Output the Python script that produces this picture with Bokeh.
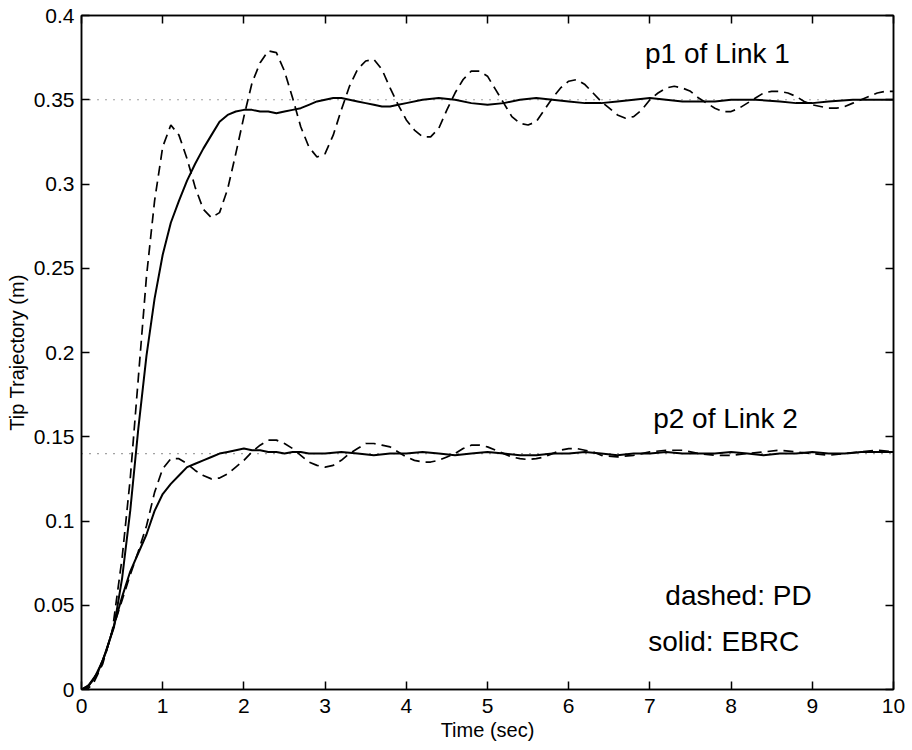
from bokeh.plotting import figure
from bokeh.models import LinearAxis, FixedTicker, Range1d
from bokeh.core.properties import value
from bokeh.embed import file_html
from bokeh.resources import INLINE

# ---------------- data ----------------
x_ticks = [0, 1, 2, 3, 4, 5, 6, 7, 8, 9, 10]
x_tick_labels = ["0", "1", "2", "3", "4", "5", "6", "7", "8", "9", "10"]
y_ticks = [0, 0.05, 0.1, 0.15, 0.2, 0.25, 0.3, 0.35, 0.4]
y_tick_labels = ["0", "0.05", "0.1", "0.15", "0.2", "0.25", "0.3", "0.35", "0.4"]

# reference (desired) positions, dotted
ref_t = [0, 10]
ref_p1 = [0.35, 0.35]
ref_p2 = [0.14, 0.14]

# p1 of Link 1, PD (dashed)
t_p1_pd = [0, 0.07, 0.15, 0.26, 0.38, 0.5, 0.6, 0.7, 0.8, 0.9, 1.0, 1.1, 1.2, 1.3, 1.4,
           1.5, 1.6, 1.7, 1.8, 1.9, 2.0, 2.1, 2.2, 2.3, 2.4, 2.5, 2.6, 2.7, 2.8, 2.9,
           3.0, 3.1, 3.2, 3.3, 3.4, 3.5, 3.6, 3.7, 3.8, 3.9, 4.0, 4.1, 4.2, 4.3, 4.4,
           4.5, 4.6, 4.7, 4.8, 4.9, 5.0, 5.1, 5.2, 5.3, 5.4, 5.5, 5.6, 5.7, 5.8, 5.9,
           6.0, 6.1, 6.2, 6.3, 6.4, 6.5, 6.6, 6.7, 6.8, 6.9, 7.0, 7.1, 7.2, 7.3, 7.4,
           7.5, 7.6, 7.7, 7.8, 7.9, 8.0, 8.1, 8.2, 8.3, 8.4, 8.5, 8.6, 8.7, 8.8, 8.9,
           9.0, 9.1, 9.2, 9.3, 9.4, 9.5, 9.6, 9.7, 9.8, 9.9, 10.0]
y_p1_pd = [0, 0, 0.004, 0.015, 0.035, 0.078, 0.125, 0.185, 0.245, 0.29, 0.322, 0.335, 0.329, 0.315, 0.298,
           0.285, 0.28, 0.283, 0.297, 0.318, 0.34, 0.36, 0.372, 0.379, 0.378, 0.367, 0.351, 0.334, 0.322, 0.316,
           0.318, 0.329, 0.344, 0.358, 0.368, 0.373, 0.374, 0.368, 0.357, 0.347, 0.338, 0.332, 0.328, 0.328, 0.333,
           0.344, 0.354, 0.362, 0.367, 0.367, 0.364, 0.356, 0.348, 0.340, 0.336, 0.335, 0.337, 0.344, 0.351, 0.357,
           0.361, 0.362, 0.359, 0.354, 0.349, 0.345, 0.341, 0.339, 0.340, 0.344, 0.350, 0.354, 0.357, 0.358, 0.357,
           0.355, 0.351, 0.348, 0.345, 0.343, 0.343, 0.345, 0.348, 0.351, 0.354, 0.355, 0.355, 0.354, 0.352, 0.349,
           0.347, 0.346, 0.345, 0.345, 0.346, 0.348, 0.350, 0.352, 0.354, 0.355, 0.355]

# p1 of Link 1, EBRC (solid)
t_p1_ebrc = [0, 0.05, 0.15, 0.26, 0.4, 0.5, 0.6, 0.7, 0.8, 0.9, 1.0, 1.1, 1.2, 1.3, 1.4,
             1.5, 1.6, 1.7, 1.8, 1.9, 2.0, 2.1, 2.2, 2.3, 2.4, 2.5, 2.6, 2.7, 2.8, 2.9,
             3.0, 3.1, 3.2, 3.3, 3.4, 3.5, 3.6, 3.7, 3.8, 3.9, 4.0, 4.2, 4.4, 4.6, 4.8,
             5.0, 5.2, 5.4, 5.6, 5.8, 6.0, 6.2, 6.4, 6.6, 6.8, 7.0, 7.2, 7.4, 7.6, 7.8,
             8.0, 8.3, 8.6, 8.8, 9.0, 9.2, 9.5, 9.8, 10.0]
y_p1_ebrc = [0, 0, 0.006, 0.017, 0.037, 0.066, 0.106, 0.155, 0.198, 0.232, 0.258, 0.277, 0.290, 0.302, 0.312,
             0.321, 0.329, 0.337, 0.341, 0.343, 0.344, 0.344, 0.343, 0.343, 0.342, 0.343, 0.344, 0.345, 0.347, 0.349,
             0.350, 0.351, 0.351, 0.350, 0.349, 0.348, 0.347, 0.346, 0.346, 0.347, 0.348, 0.350, 0.351, 0.350, 0.348,
             0.347, 0.348, 0.350, 0.351, 0.350, 0.349, 0.348, 0.348, 0.349, 0.350, 0.351, 0.350, 0.349, 0.349, 0.349,
             0.350, 0.350, 0.349, 0.348, 0.348, 0.349, 0.350, 0.350, 0.350]

# p2 of Link 2, PD (dashed)
t_p2_pd = [0, 0.1, 0.2, 0.3, 0.4, 0.5, 0.6, 0.7, 0.8, 0.9, 1.0, 1.1, 1.2, 1.3, 1.4,
           1.5, 1.6, 1.7, 1.8, 1.9, 2.0, 2.1, 2.2, 2.3, 2.4, 2.5, 2.6, 2.7, 2.8, 2.9,
           3.0, 3.1, 3.2, 3.3, 3.4, 3.5, 3.6, 3.7, 3.8, 3.9, 4.0, 4.1, 4.2, 4.3, 4.4,
           4.5, 4.6, 4.7, 4.8, 4.9, 5.0, 5.1, 5.2, 5.3, 5.4, 5.5, 5.6, 5.7, 5.8, 5.9,
           6.0, 6.1, 6.2, 6.3, 6.4, 6.6, 6.8, 7.0, 7.2, 7.4, 7.6, 7.8, 8.0, 8.2, 8.4,
           8.6, 8.8, 9.0, 9.2, 9.4, 9.6, 9.8, 10.0]
y_p2_pd = [0, 0.003, 0.01, 0.022, 0.038, 0.053, 0.068, 0.082, 0.097, 0.117, 0.131, 0.137, 0.137, 0.134, 0.130,
           0.127, 0.125, 0.1255, 0.128, 0.132, 0.136, 0.141, 0.145, 0.148, 0.148, 0.146, 0.143, 0.139, 0.135, 0.133,
           0.132, 0.133, 0.136, 0.140, 0.143, 0.146, 0.146, 0.145, 0.144, 0.141, 0.138, 0.136, 0.135, 0.135, 0.136,
           0.138, 0.140, 0.143, 0.145, 0.145, 0.144, 0.142, 0.140, 0.138, 0.137, 0.1365, 0.137, 0.138, 0.140, 0.142,
           0.143, 0.143, 0.142, 0.141, 0.139, 0.138, 0.139, 0.141, 0.142, 0.142, 0.140, 0.139, 0.139, 0.140, 0.141,
           0.142, 0.141, 0.140, 0.139, 0.140, 0.141, 0.142, 0.141]

# p2 of Link 2, EBRC (solid)
t_p2_ebrc = [0, 0.08, 0.2, 0.3, 0.4, 0.5, 0.6, 0.7, 0.8, 0.9, 1.0, 1.1, 1.2, 1.3, 1.4,
             1.5, 1.6, 1.7, 1.8, 1.9, 2.0, 2.1, 2.2, 2.3, 2.4, 2.5, 2.6, 2.7, 2.8, 3.0,
             3.2, 3.4, 3.6, 3.8, 4.0, 4.2, 4.4, 4.6, 4.8, 5.0, 5.2, 5.4, 5.6, 5.8, 6.0,
             6.2, 6.4, 6.6, 6.8, 7.0, 7.2, 7.4, 7.6, 7.8, 8.0, 8.2, 8.4, 8.6, 8.8, 9.0,
             9.2, 9.4, 9.6, 9.8, 10.0]
y_p2_ebrc = [0, 0.002, 0.01, 0.022, 0.038, 0.055, 0.070, 0.081, 0.092, 0.106, 0.116, 0.122, 0.127, 0.132, 0.134,
             0.136, 0.138, 0.140, 0.141, 0.142, 0.143, 0.142, 0.142, 0.141, 0.141, 0.140, 0.141, 0.141, 0.140, 0.140,
             0.141, 0.140, 0.139, 0.140, 0.140, 0.141, 0.140, 0.139, 0.140, 0.141, 0.140, 0.139, 0.139, 0.140, 0.140,
             0.141, 0.140, 0.139, 0.140, 0.140, 0.141, 0.140, 0.140, 0.140, 0.141, 0.140, 0.139, 0.140, 0.140, 0.141,
             0.140, 0.140, 0.141, 0.141, 0.141]

# annotations
ann_x = [6.94, 7.04, 7.19, 6.98]
ann_y = [0.3772, 0.1611, 0.0558, 0.0285]
ann_text = ["p1 of Link 1", "p2 of Link 2", "dashed: PD", "solid: EBRC"]

FONT = "Liberation Sans"

# ---------------- figure ----------------
p = figure(width=905, height=749, output_backend="svg", toolbar_location=None,
           x_range=Range1d(0, 10), y_range=Range1d(0, 0.4),
           min_border_left=81, min_border_right=12, min_border_top=15, min_border_bottom=60)
p.grid.visible = False
p.outline_line_color = "black"
p.outline_line_width = 1.5
p.background_fill_color = "white"
p.border_fill_color = "white"

xa = p.xaxis[0]
xa.ticker = FixedTicker(ticks=x_ticks)
xa.major_label_overrides = dict(zip(x_ticks, x_tick_labels))
xa.axis_label = "Time (sec)"
ya = p.yaxis[0]
ya.ticker = FixedTicker(ticks=y_ticks)
ya.major_label_overrides = dict(zip(y_ticks, y_tick_labels))
ya.axis_label = "Tip Trajectory (m)"

for ax in (xa, ya):
    ax.major_tick_in = 8
    ax.major_tick_out = 0
    ax.minor_tick_line_color = None
    ax.axis_line_color = "black"
    ax.axis_line_width = 1.5
    ax.major_tick_line_width = 1.5
    ax.major_label_text_font = FONT
    ax.major_label_text_font_size = "21px"
    ax.major_label_text_color = "black"
    ax.axis_label_text_font = FONT
    ax.axis_label_text_font_size = "20px"
    ax.axis_label_text_font_style = "normal"
    ax.axis_label_text_color = "black"
xa.major_label_standoff = 9
xa.axis_label_standoff = 3
ya.major_label_standoff = 7
ya.axis_label_standoff = 3

ax_top = LinearAxis(ticker=FixedTicker(ticks=x_ticks))
ax_right = LinearAxis(ticker=FixedTicker(ticks=y_ticks))
for ax in (ax_top, ax_right):
    ax.major_tick_in = 8
    ax.major_tick_out = 0
    ax.minor_tick_line_color = None
    ax.axis_line_color = "black"
    ax.axis_line_width = 1.5
    ax.major_tick_line_width = 1.5
    ax.major_label_text_font_size = "1px"
    ax.major_label_text_color = None
    ax.major_label_standoff = 0
p.add_layout(ax_top, "above")
p.add_layout(ax_right, "right")

# reference dotted lines
p.line(ref_t, ref_p1, line_color="#444444", line_width=1.2, line_dash="1 7")
p.line(ref_t, ref_p2, line_color="#444444", line_width=1.2, line_dash="1 7")

# curves
p.line(t_p1_pd, y_p1_pd, line_color="black", line_width=1.7, line_dash="10 6")
p.line(t_p2_pd, y_p2_pd, line_color="black", line_width=1.7, line_dash="10 6")
p.line(t_p1_ebrc, y_p1_ebrc, line_color="black", line_width=2)
p.line(t_p2_ebrc, y_p2_ebrc, line_color="black", line_width=2)

p.text(x=ann_x, y=ann_y, text=ann_text, text_font=value(FONT), text_font_size="28px",
       text_color="black", text_align="left", text_baseline="alphabetic")

open("out.html", "w").write(file_html(p, INLINE))
